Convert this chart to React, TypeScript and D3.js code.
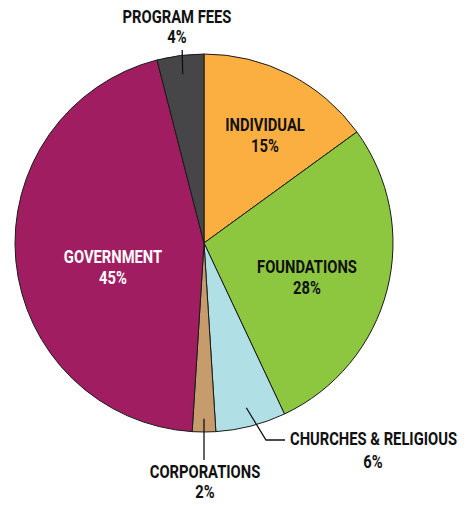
import React from "react";
import * as d3 from "d3";

const categories = ["INDIVIDUAL", "FOUNDATIONS", "CHURCHES & RELIGIOUS", "CORPORATIONS", "GOVERNMENT", "PROGRAM FEES"];
const values = [15, 28, 6, 2, 45, 4];
const colors = ["#FBAF41", "#8DC63F", "#B0E0E6", "#C69C6D", "#A11D62", "#464648"];
const labelColors = ["#111", "#111", "#111", "#111", "#fff", "#111"];

const W = 473, H = 506;
const cx = 204, cy = 243, R = 189;
const FONT = "Roboto, 'Liberation Sans', sans-serif";
const SX = 0.82;

function Label({ x, y, text, anchor, fill }: { x: number; y: number; text: string; anchor: string; fill: string }) {
  return (
    <text transform={`translate(${x},${y}) scale(${SX},1)`} textAnchor={anchor} fontFamily={FONT} fontWeight={700} fontSize={18} fill={fill}>
      {text}
    </text>
  );
}

export default function App() {
  const pie = d3.pie<number>().sort(null).value((d) => d)(values);
  const arc = d3.arc<d3.PieArcDatum<number>>().innerRadius(0).outerRadius(R);

  const polar = (a: number, r: number) => [cx + r * Math.sin(a), cy - r * Math.cos(a)];
  const mid = (i: number) => (pie[i].startAngle + pie[i].endAngle) / 2;

  const inside: Record<number, [number, number]> = {
    0: [265, 131],
    1: [307, 273],
    4: [113, 263],
  };
  const outside: Record<number, { x: number; y: number; anchor: string; line: [number, number][] }> = {
    5: { x: 177, y: 23, anchor: "middle", line: [[polar(mid(5), R * 0.92)[0], 50], polar(mid(5), R * 0.9) as [number, number]] },
    3: { x: 205, y: 478, anchor: "middle", line: [[polar(mid(3), R * 0.9)[0], 460], polar(mid(3), R * 0.93) as [number, number]] },
    2: { x: 290, y: 445, anchor: "start", line: [[285, 440], [266, 440], polar(mid(2), R * 0.9) as [number, number]] },
  };

  return (
    <svg width={W} height={H} style={{ position: "absolute", left: 0, top: 0 }}>
      <rect width={W} height={H} fill="#fff" />
      {pie.map((p, i) => (
        <path key={i} d={arc(p) as string} transform={`translate(${cx},${cy})`} fill={colors[i]} stroke="#1a1a1a" strokeWidth={1} />
      ))}
      {Object.entries(outside).map(([k, o]) => (
        <polyline key={"l" + k} points={o.line.map((p) => p.join(",")).join(" ")} fill="none" stroke="#111" strokeWidth={1.3} />
      ))}
      {Object.entries(inside).map(([k, [x, y]]) => {
        const i = +k;
        return (
          <g key={"t" + k}>
            <Label x={x} y={y} text={categories[i]} anchor="middle" fill={labelColors[i]} />
            <Label x={x} y={y + 21} text={`${values[i]}%`} anchor="middle" fill={labelColors[i]} />
          </g>
        );
      })}
      {Object.entries(outside).map(([k, o]) => {
        const i = +k;
        const pctX = o.anchor === "start" ? 373 : o.x;
        return (
          <g key={"o" + k}>
            <Label x={o.x} y={o.y} text={categories[i]} anchor={o.anchor} fill="#111" />
            <Label x={pctX} y={o.y + (i === 2 ? 23 : 20)} text={`${values[i]}%`} anchor="middle" fill="#111" />
          </g>
        );
      })}
    </svg>
  );
}
